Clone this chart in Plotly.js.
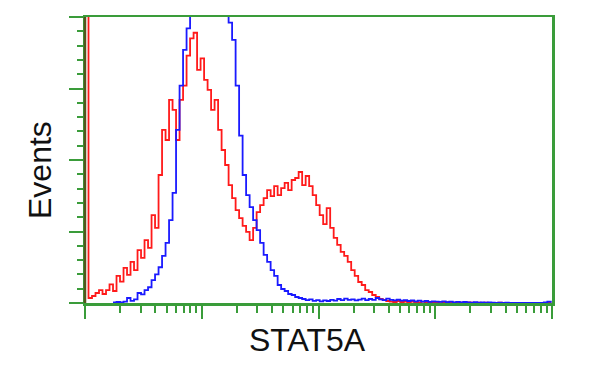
<!DOCTYPE html>
<html>
<head>
<meta charset="utf-8">
<script src="https://cdn.plot.ly/plotly-3.0.1.min.js"></script>
<style>html,body{margin:0;padding:0;background:#fff;}#chart{width:600px;height:375px;}</style>
</head>
<body>
<div id="chart"></div>
<script>
// Bin positions (log10 of fluorescence channel)
const binExp = [
0.00,0.03,0.06,0.09,0.12,0.15,0.18,0.21,0.24,0.27,
0.30,0.33,0.36,0.39,0.42,0.45,0.48,0.51,0.54,0.57,
0.60,0.63,0.66,0.69,0.72,0.75,0.78,0.81,0.84,0.87,
0.90,0.93,0.96,0.99,1.02,1.05,1.08,1.11,1.14,1.17,
1.20,1.23,1.26,1.29,1.32,1.35,1.38,1.41,1.44,1.47,
1.50,1.53,1.56,1.59,1.62,1.65,1.68,1.71,1.74,1.77,
1.80,1.83,1.86,1.89,1.92,1.95,1.98,2.01,2.04,2.07,
2.10,2.13,2.16,2.19,2.22,2.25,2.28,2.31,2.34,2.37,
2.40,2.43,2.46,2.49,2.52,2.55,2.58,2.61,2.64,2.67,
2.70,2.73,2.76,2.79,2.82,2.85,2.88,2.91,2.94,2.97,
3.00,3.03,3.06,3.09,3.12,3.15,3.18,3.21,3.24,3.27,
3.30,3.33,3.36,3.39,3.42,3.45,3.48,3.51,3.54,3.57,
3.60,3.63,3.66,3.69,3.72,3.75,3.78,3.81,3.84,3.87,
3.90,3.93,3.96,3.99];

// STAT5A stained sample (red)
const redCounts = [
230,3.5,4.9,7,9,6.3,9,13,8.4,19,
15,24.5,19.6,28.7,23,37,31.5,44,38.5,61.5,
52.5,89.5,121,114,142,135,114,142,152,173,
185,189,163,171,156,149,135,142,121,107,
96.5,82.5,73.4,65,59.4,54,49.7,44,52.5,63.6,
68.5,73.4,79,74.8,81.8,75.5,80.4,84,79,86,
87.4,91.6,82.5,88.8,81.8,75.5,68.5,61.5,55.2,66.4,
52.5,45.5,40.6,35.7,32.9,28.7,23,19,14.7,12.6,
9,7.7,5.6,4.2,2.8,2.1,1.4,1,0.7,1.4,
0.7,1,0.5,1,0.7,0.5,1,0.7,0.3,0.7,
0.5,0.8,0.3,0.6,0.4,0.2,0.5,0.3,0.2,0.4,
0.2,0.1,0.3,0.1,0.2,0,0.1,0,0.2,0,
0,0.1,0,0,0,0,0,0,0,0,
0,0,0,0.3];

// Control sample (blue)
const blueCounts = [
null,null,null,null,null,null,null,null,0.5,0.7,
0.5,1,3.5,1.5,2.5,7,6,9,11,16,
20,25,33,42,58,77,121,152,177,192,
205,215,225,232,236,238,236,232,225,215,
206,196,184,152,117,89.5,75.5,67,58,51,
42,33.6,28.7,23,19,12.6,9.8,8.4,6.3,5.6,
4.2,3.5,2.8,2,2.5,1.5,2,1.2,1.8,1.4,
2.2,1.6,2.8,2,3,2.2,2.6,1.8,2.4,3,
2,2.8,2.2,3.5,2.6,2,3,2.2,1.8,2.4,
1.6,2,1.4,1.8,1.2,1.6,1,1.4,0.8,1.2,
1,0.8,1.2,0.6,0.9,0.5,0.8,0.4,0.7,0.5,
0.3,0.6,0.2,0.4,0.3,0.5,0.2,0.1,0.3,0.1,
0.2,0,0.1,0,0,0,0,0,0,0,
0,0.5,1,0.2];

const xTitle = 'STAT5A';
const yTitle = 'Events';

const xVals = binExp.map(e => Math.pow(10, e));
const green = '#3a9c3a';

const traces = [
  {x: xVals, y: redCounts, type: 'scatter', mode: 'lines',
   line: {color: '#ff1a1a', width: 1.8, shape: 'hv'}, hoverinfo: 'skip'},
  {x: xVals, y: blueCounts, type: 'scatter', mode: 'lines',
   line: {color: '#1a1aff', width: 1.8, shape: 'hv'}, hoverinfo: 'skip'}
];

const layout = {
  width: 600, height: 375,
  margin: {l: 85, r: 48, t: 17, b: 72},
  paper_bgcolor: '#fff', plot_bgcolor: '#fff',
  showlegend: false,
  xaxis: {
    type: 'log', range: [0, 4], dtick: 1,
    showgrid: false, zeroline: false,
    showline: true, linecolor: green, linewidth: 2.5, mirror: true,
    ticks: 'outside', ticklen: 13, tickwidth: 2, tickcolor: green,
    showticklabels: false,
    minor: {ticks: 'outside', ticklen: 7, tickwidth: 2, tickcolor: green, dtick: 'D1', showgrid: false}
  },
  yaxis: {
    range: [0, 200], dtick: 50,
    showgrid: false, zeroline: false,
    showline: true, linecolor: green, linewidth: 2.5, mirror: true,
    ticks: 'outside', ticklen: 14, tickwidth: 2, tickcolor: green,
    showticklabels: false,
    minor: {ticks: 'outside', ticklen: 6, tickwidth: 2, tickcolor: green, dtick: 10, showgrid: false}
  },
  shapes: [
    {type: 'line', xref: 'paper', yref: 'paper', x0: 0, x1: 0, y0: 0, y1: 1,
     line: {color: '#55551e', width: 2.5}, layer: 'above'}
  ],
  annotations: [
    {text: xTitle, xref: 'paper', yref: 'paper', x: 0.4775, y: -0.129,
     xanchor: 'center', yanchor: 'middle', showarrow: false,
     font: {family: 'Liberation Sans, Arial, sans-serif', size: 32, color: '#111'}},
    {text: yTitle, xref: 'paper', yref: 'paper', x: -0.0964, y: 0.465,
     xanchor: 'center', yanchor: 'middle', showarrow: false, textangle: -90,
     font: {family: 'Liberation Sans, Arial, sans-serif', size: 32, color: '#111'}}
  ]
};

Plotly.newPlot('chart', traces, layout, {staticPlot: true, displayModeBar: false});
</script>
</body>
</html>
